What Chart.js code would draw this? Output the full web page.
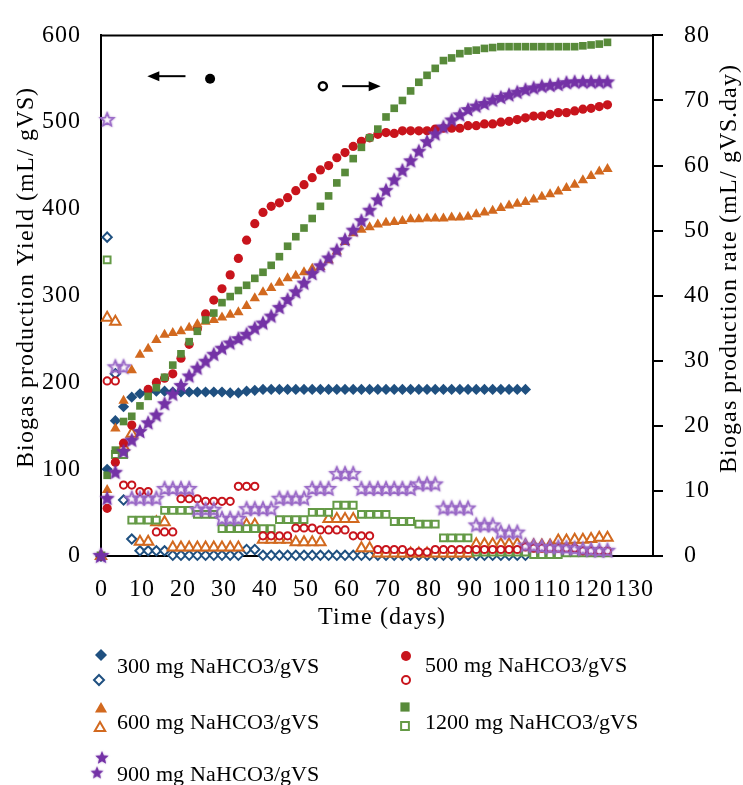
<!DOCTYPE html>
<html lang="en">
<head>
    <meta charset="UTF-8">
    <title>Biogas production</title>
    <script src="https://cdn.jsdelivr.net/npm/chart.js"></script>
    <style>
        @font-face {
            font-family: 'ChartSerif';
            src: local('Liberation Serif'), local('LiberationSerif'), local('LiberationSerif-Regular'), local('Times New Roman');
        }
        html, body { margin: 0; padding: 0; background: #fff; }
        canvas { display: block; }
        .probe { position: absolute; left: -999px; top: 0; font-family: 'ChartSerif'; }
    </style>
</head>
<body>
    <span class="probe">0123 Biogas</span>
    <canvas id="biogasChart" width="743" height="785"></canvas>

    <script>
        // Sampling days (shared by every series)
        const days = [0, 1.5, 3.5, 5.5, 7.5, 9.5, 11.5, 13.5, 15.5, 17.5,
            19.5, 21.5, 23.5, 25.5, 27.5, 29.5, 31.5, 33.5, 35.5, 37.5,
            39.5, 41.5, 43.5, 45.5, 47.5, 49.5, 51.5, 53.5, 55.5, 57.5,
            59.5, 61.5, 63.5, 65.5, 67.5, 69.5, 71.5, 73.5, 75.5, 77.5,
            79.5, 81.5, 83.5, 85.5, 87.5, 89.5, 91.5, 93.5, 95.5, 97.5,
            99.5, 101.5, 103.5, 105.5, 107.5, 109.5, 111.5, 113.5, 115.5, 117.5,
            119.5, 121.5, 123.5];

        // Cumulative yield, mL/gVS (left axis)
        const yield300 = [0, 100, 156, 172, 183, 187, 189, 190, 190, 189,
            189, 189, 189, 189, 189, 189, 188, 188, 190, 191,
            192, 192, 192, 192, 192, 192, 192, 192, 192, 192,
            192, 192, 192, 192, 192, 192, 192, 192, 192, 192,
            192, 192, 192, 192, 192, 192, 192, 192, 192, 192,
            192, 192, 192, null, null, null, null, null, null, null,
            null, null, null];
        const yield500 = [0, 55, 108, 130, 151, null, 192, 200, 205, 210,
            228, 244, 262, 279, 295, 308, 324, 343, 364, 383,
            396, 403, 407, 413, 421, 428, 436, 445, 450, 459,
            465, 472, 478, 482, 486, 488, 487, 490, 490, 490,
            490, 492, 493, 493, 493, 496, 496, 498, 498, 500,
            501, 503, 505, 507, 507, 509, 511, 511, 513, 515,
            516, 518, 520];
        const yield600 = [0, 76, 147, 179, 214, 232, 239, 249, 255, 257,
            259, 263, 267, 270, 272, 275, 278, 281, 288, 297,
            304, 309, 315, 320, 323, 327, 331, 333, 341, 351,
            362, 372, 376, 379, 382, 384, 385, 386, 388, 388,
            389, 389, 389, 390, 390, 391, 394, 396, 398, 401,
            404, 406, 408, 411, 414, 417, 420, 424, 428, 433,
            438, 443, 446];
        const yield1200 = [0, 93, 122, 155, 161, 173, 184, 194, 206, 220,
            233, 247, 259, 272, 280, 292, 299, 306, 312, 320,
            327, 335, 345, 357, 368, 378, 389, 403, 415, 430,
            442, 458, 471, 482, 492, 506, 516, 525, 536, 546,
            554, 562, 571, 574, 579, 582, 583, 585, 586, 587,
            587, 587, 587, 587, 587, 587, 587, 587, 587, 588,
            589, 590, 592];
        const yield900 = [0, 66, 96, 120, 133, 143, 153, 162, 175, 186,
            196, 207, 216, 224, 232, 239, 245, 250, 255, 262,
            268, 276, 286, 295, 304, 314, 325, 334, 343, 352,
            364, 375, 386, 398, 410, 421, 433, 444, 455, 466,
            477, 486, 494, 502, 508, 514, 518, 521, 525, 528,
            531, 534, 537, 539, 541, 542, 543, 545, 546, 546,
            546, 546, 546];

        // Daily production rate, mL/gVS.day (right axis)
        const rate300 = [0, 49, 28, 8.6, 2.6, 0.8, 0.8, 0.8, 0.8, 0.1,
            0.1, 0.1, 0.1, 0.1, 0.1, 0.1, 0.1, 0.1, 1.0, 1.0,
            0.1, 0.1, 0.1, 0.1, 0.1, 0.1, 0.1, 0.1, 0.1, 0.1,
            0.1, 0.1, 0.1, 0.1, 0.1, 0.1, 0.1, 0.1, 0.1, 0.1,
            0.1, 0.1, 0.1, 0.1, 0.1, 0.1, 0.1, 0.1, 0.1, 0.1,
            0.1, 0.1, 0.1, null, null, null, null, null, null, null,
            null, null, null];
        const rate500 = [0, 26.9, 26.9, 10.9, 10.9, 9.9, 9.9, 3.7, 3.7, 3.7,
            8.8, 8.8, 8.8, 8.4, 8.4, 8.4, 8.4, 10.7, 10.7, 10.7,
            3.1, 3.1, 3.1, 3.1, 4.3, 4.3, 4.3, 4.0, 4.0, 4.0,
            4.0, 3.1, 3.1, 3.1, 1.0, 1.0, 1.0, 1.0, 0.6, 0.6,
            0.6, 1.0, 1.0, 1.0, 1.0, 1.0, 1.0, 1.0, 1.0, 1.0,
            1.0, 1.0, 1.4, 1.2, 1.2, 1.2, 1.2, 1.2, 1.2, 0.8,
            0.8, 0.8, 0.8];
        const rate600 = [0, 36.6, 36.0, 16.8, 18.8, 2.2, 2.2, 5.2, 5.2, 1.3,
            1.3, 1.3, 1.3, 1.3, 1.3, 1.3, 1.3, 1.3, 4.8, 4.8,
            2.5, 2.5, 2.5, 2.5, 2.1, 2.1, 2.1, 2.1, 5.7, 5.7,
            5.7, 5.7, 1.2, 1.2, 0.4, 0.4, 0.4, 0.4, 0.4, 0.4,
            0.4, 0.4, 0.4, 0.4, 0.4, 0.4, 1.8, 1.8, 1.8, 1.8,
            1.8, 1.8, 1.6, 1.6, 1.6, 1.6, 2.4, 2.4, 2.5, 2.5,
            2.6, 2.8, 2.8];
        const rate1200 = [0, 45.5, 15.6, 15.6, 5.5, 5.5, 5.5, 5.5, 7.0, 7.0,
            7.0, 7.0, 6.4, 6.4, 6.4, 4.2, 4.2, 4.2, 4.2, 4.2,
            4.2, 4.2, 5.6, 5.6, 5.6, 5.6, 6.7, 6.7, 6.7, 7.8,
            7.8, 7.8, 6.4, 6.4, 6.4, 6.4, 5.3, 5.3, 5.3, 4.9,
            4.9, 4.9, 2.8, 2.8, 2.8, 2.8, 0.6, 0.6, 0.6, 0.6,
            0.6, 0.6, 0.6, 0.2, 0.2, 0.2, 0.2, 0.5, 0.5, 0.5,
            0.5, 0.5, 0.5];
        const rate900 = [0, 67, 29, 29, 8.8, 8.8, 8.8, 8.8, 10.3, 10.3,
            10.3, 10.3, 7.1, 7.1, 7.1, 5.7, 5.7, 5.7, 7.2, 7.2,
            7.2, 7.2, 8.8, 8.8, 8.8, 8.8, 10.3, 10.3, 10.3, 12.6,
            12.6, 12.6, 10.3, 10.3, 10.3, 10.3, 10.3, 10.3, 10.3, 11.0,
            11.0, 11.0, 7.3, 7.3, 7.3, 7.3, 4.7, 4.7, 4.7, 3.6,
            3.6, 3.6, 1.6, 1.5, 1.4, 1.3, 1.3, 1.2, 1.1, 1.0,
            0.9, 0.8, 0.8];

        const doseLabels = ['300 mg NaHCO3/gVS', '500 mg NaHCO3/gVS', '600 mg NaHCO3/gVS',
            '1200 mg NaHCO3/gVS', '900 mg NaHCO3/gVS'];

        const FONT = "ChartSerif, 'Liberation Serif', 'Times New Roman', serif";
        const BLUE = '#1f5080', RED = '#c8141c', ORANGE = '#d2691f', GREEN = '#588a3a', PURPLE = '#7432a6';

        // five-point star sprite used as a custom pointStyle
        function makeStar(outer, fill, stroke, lw) {
            const size = Math.ceil(outer * 2 + 6);
            const c = document.createElement('canvas');
            c.width = c.height = size;
            const g = c.getContext('2d');
            const cx = size / 2, cy = size / 2, inner = outer * 0.45;
            g.beginPath();
            for (let k = 0; k < 10; k++) {
                const r = k % 2 ? inner : outer;
                const a = -Math.PI / 2 + k * Math.PI / 5;
                g.lineTo(cx + r * Math.cos(a), cy + r * Math.sin(a));
            }
            g.closePath();
            g.shadowColor = 'rgba(116,50,166,0.55)';
            g.shadowBlur = 2;
            if (fill) { g.fillStyle = fill; g.fill(); }
            if (stroke) { g.lineWidth = lw; g.strokeStyle = stroke; g.stroke(); }
            return c;
        }
        const starFilled = makeStar(8, PURPLE, null, 0);
        const starOpen = makeStar(7, null, '#9a6ac8', 1.6);
        const starLegend = makeStar(7, PURPLE, null, 0);

        function points(vals) {
            const out = [];
            vals.forEach((v, i) => { if (v !== null) out.push({ x: days[i], y: v }); });
            return out;
        }

        function series(label, vals, axis, style) {
            return Object.assign({
                label: label,
                data: points(vals),
                yAxisID: axis,
                showLine: false,
                clip: false
            }, style);
        }

        const filled = (shape, r, color) => ({ pointStyle: shape, pointRadius: r, backgroundColor: color, borderColor: color, pointBorderWidth: 0 });
        const hollow = (shape, r, color) => ({ pointStyle: shape, pointRadius: r, backgroundColor: '#fff', borderColor: color, pointBorderWidth: 2 });

        // first dataset is painted last (on top)
        const datasets = [
            series(doseLabels[4], yield900, 'y', { pointStyle: starFilled, pointRadius: 8 }),
            series(doseLabels[3], yield1200, 'y', filled('rect', 5.4, GREEN)),
            series(doseLabels[2], yield600, 'y', filled('triangle', 6, ORANGE)),
            series(doseLabels[1], yield500, 'y', filled('circle', 4.6, RED)),
            series(doseLabels[0], yield300, 'y', filled('rectRot', 5.6, BLUE)),
            series(doseLabels[4], rate900, 'y2', { pointStyle: starOpen, pointRadius: 7 }),
            series(doseLabels[1], rate500, 'y2', hollow('circle', 3.6, RED)),
            series(doseLabels[3], rate1200, 'y2', hollow('rect', 4.8, '#649a46')),
            series(doseLabels[2], rate600, 'y2', hollow('triangle', 6, ORANGE)),
            series(doseLabels[0], rate300, 'y2', hollow('rectRot', 4.6, BLUE))
        ];

        // small marker painter for the legend block
        function marker(ctx, shape, x, y, r, color, open) {
            ctx.save();
            ctx.fillStyle = open ? '#fff' : color;
            ctx.strokeStyle = color;
            ctx.lineWidth = 2;
            ctx.beginPath();
            if (shape === 'circle') {
                ctx.arc(x, y, r, 0, Math.PI * 2);
            } else if (shape === 'rectRot') {
                ctx.moveTo(x, y - r); ctx.lineTo(x + r, y); ctx.lineTo(x, y + r); ctx.lineTo(x - r, y);
            } else if (shape === 'rect') {
                const s = r * Math.SQRT1_2;
                ctx.rect(x - s, y - s, 2 * s, 2 * s);
            } else if (shape === 'triangle') {
                ctx.moveTo(x, y - r);
                ctx.lineTo(x + r * 0.866, y + r * 0.5);
                ctx.lineTo(x - r * 0.866, y + r * 0.5);
            }
            ctx.closePath();
            ctx.fill();
            if (open) ctx.stroke();
            ctx.restore();
        }

        function arrow(ctx, x1, y, x2) {
            const dir = Math.sign(x2 - x1);
            ctx.beginPath();
            ctx.moveTo(x1, y);
            ctx.lineTo(x2 - dir * 8, y);
            ctx.stroke();
            ctx.beginPath();
            ctx.moveTo(x2, y);
            ctx.lineTo(x2 - dir * 12, y - 5);
            ctx.lineTo(x2 - dir * 12, y + 5);
            ctx.closePath();
            ctx.fill();
        }

        const decorations = {
            id: 'decorations',
            beforeLayout(chart) { chart.ctx.letterSpacing = '1px'; },
            beforeDraw(chart) {
                const ctx = chart.ctx;
                ctx.save();
                ctx.fillStyle = '#fff';
                ctx.fillRect(0, 0, chart.width, chart.height);
                ctx.restore();
                ctx.letterSpacing = '1px';
            },
            afterDraw(chart) {
                const { ctx, chartArea: a, scales } = chart;
                ctx.save();
                ctx.strokeStyle = '#000';
                ctx.fillStyle = '#000';

                // top frame
                ctx.lineWidth = 2;
                ctx.beginPath();
                ctx.moveTo(a.left, a.top);
                ctx.lineTo(a.right, a.top);
                ctx.stroke();

                // axis titles
                ctx.letterSpacing = '1px';
                ctx.font = '24px ' + FONT;
                ctx.textAlign = 'center';
                ctx.textBaseline = 'middle';
                ctx.fillText('Time (days)', (a.left + a.right) / 2 + 5, a.bottom + 62);

                ctx.save();
                ctx.translate(27, 277);
                ctx.rotate(-Math.PI / 2);
                ctx.fillText('Biogas production Yield (mL/ gVS)', 0, 0);
                ctx.restore();

                ctx.save();
                ctx.translate(730, 268);
                ctx.rotate(-Math.PI / 2);
                ctx.fillText('Biogas production rate (mL/ gVS.day)', 0, 0);
                ctx.restore();

                // direction hints: filled dot -> left axis, open dot -> right axis
                const x = scales.x, y = scales.y, y2 = scales.y2;
                ctx.lineWidth = 2;
                const yl = y.getPixelForValue(553);
                arrow(ctx, x.getPixelForValue(20.6), yl, x.getPixelForValue(11.3));
                ctx.beginPath();
                ctx.arc(x.getPixelForValue(26.6), y.getPixelForValue(550), 5, 0, Math.PI * 2);
                ctx.fill();
                const yr = y2.getPixelForValue(72.2);
                ctx.lineWidth = 2.5;
                ctx.beginPath();
                ctx.arc(x.getPixelForValue(54.1), yr, 4, 0, Math.PI * 2);
                ctx.stroke();
                ctx.lineWidth = 2;
                arrow(ctx, x.getPixelForValue(58.8), yr, x.getPixelForValue(68.2));

                // legend
                ctx.letterSpacing = '0px';
                ctx.font = '22px ' + FONT;
                ctx.textAlign = 'left';
                ctx.textBaseline = 'alphabetic';

                marker(ctx, 'rectRot', 101, 655, 6, BLUE, false);
                marker(ctx, 'rectRot', 99, 680, 5, BLUE, true);
                ctx.fillText(doseLabels[0], 117, 673);

                marker(ctx, 'circle', 406, 656, 5, RED, false);
                marker(ctx, 'circle', 406, 680, 4, RED, true);
                ctx.fillText(doseLabels[1], 425, 672);

                marker(ctx, 'triangle', 101, 709, 7, ORANGE, false);
                marker(ctx, 'triangle', 100, 728, 6, ORANGE, true);
                ctx.fillText(doseLabels[2], 117, 729);

                marker(ctx, 'rect', 405, 707, 6.5, GREEN, false);
                marker(ctx, 'rect', 405, 726, 5.5, '#649a46', true);
                ctx.fillText(doseLabels[3], 425, 729);

                ctx.drawImage(starLegend, 102 - starLegend.width / 2, 758 - starLegend.height / 2);
                ctx.drawImage(starLegend, 97 - starLegend.width / 2 + 0.5, 773 - starLegend.height / 2 + 0.5,
                    starLegend.width - 1, starLegend.height - 1);
                ctx.fillText(doseLabels[4], 117, 781);

                ctx.restore();
            }
        };

        const tickFont = { family: FONT, size: 24 };

        function drawChart() {
            new Chart(document.getElementById('biogasChart'), {
                type: 'scatter',
                data: { datasets: datasets },
                options: {
                    responsive: false,
                    animation: false,
                    devicePixelRatio: 1,
                    events: [],
                    layout: { padding: { top: 21, left: 0, right: 0, bottom: 0 } },
                    plugins: {
                        legend: { display: false },
                        tooltip: { enabled: false }
                    },
                    scales: {
                        x: {
                            type: 'linear',
                            position: 'bottom',
                            min: 0,
                            max: 134.6,
                            afterFit: s => { s.height = 229; },
                            ticks: { stepSize: 10, includeBounds: false, autoSkip: false, maxRotation: 0, color: '#000', font: tickFont, padding: 19 },
                            grid: { display: false, drawTicks: false },
                            border: { color: '#000', width: 2 }
                        },
                        y: {
                            type: 'linear',
                            position: 'left',
                            min: 0,
                            max: 600,
                            afterFit: s => { s.width = 101; },
                            ticks: { stepSize: 100, color: '#000', font: tickFont, padding: 20 },
                            grid: { display: false, drawTicks: false },
                            border: { color: '#000', width: 2 }
                        },
                        y2: {
                            type: 'linear',
                            position: 'right',
                            min: 0,
                            max: 80,
                            afterFit: s => { s.width = 90; },
                            ticks: { stepSize: 10, color: '#000', font: tickFont, padding: 21 },
                            grid: { drawOnChartArea: false, drawTicks: true, tickLength: 10, color: '#000', lineWidth: 2 },
                            border: { color: '#000', width: 2 }
                        }
                    }
                },
                plugins: [decorations]
            });
        }

        // make sure the serif face is ready before painting on the canvas
        document.fonts.load('24px ChartSerif').then(drawChart, drawChart);
    </script>
</body>
</html>
